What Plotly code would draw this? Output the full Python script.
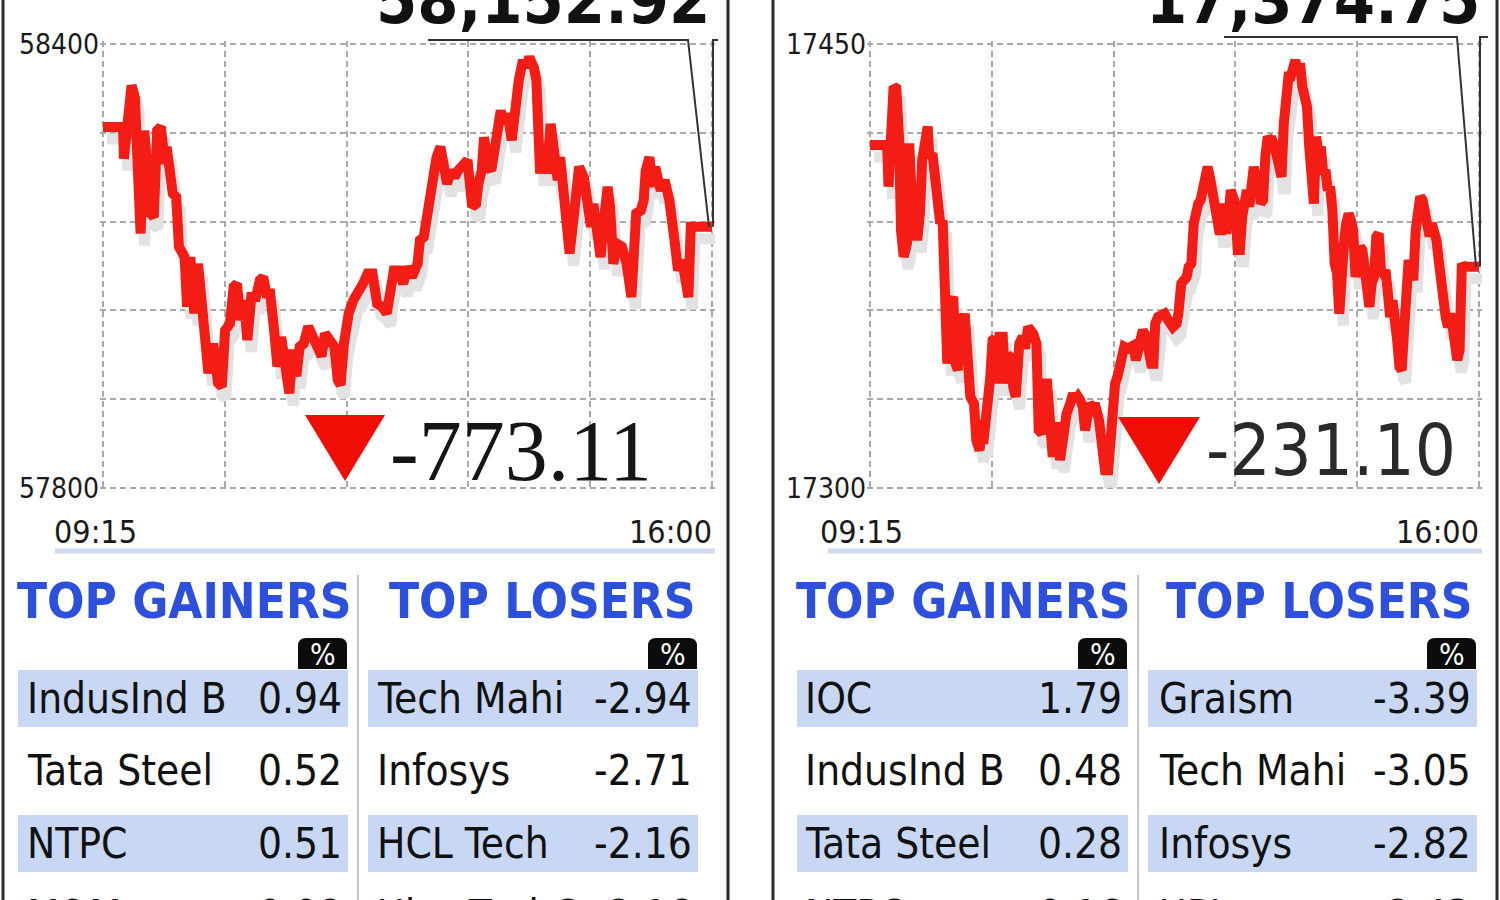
import plotly.graph_objects as go

W, H = 1500, 900

# ---------------- data ----------------
sensex_t = [0, 13.3, 13.9, 15.8, 19, 21.2, 22.7, 25, 27.5, 29.7, 31.6, 33.8, 36, 38.5, 41.1, 42.3, 44.9, 46.4, 48.7,
            50.5, 54.3, 55.9, 58.1, 60.7, 63.2, 65.4, 67.6, 70.1, 73.3, 76.5, 79, 81.2, 84.4, 86.9, 89.1, 91.3, 93.8,
            96, 98.6, 101.7, 104.3, 106.5, 108.7, 111.2, 113.8, 116, 118.5, 120.7, 123.9, 126.4, 128.6, 130.8, 133.4,
            136.5, 139.7, 142.8, 145.4, 147.6, 150.7, 153.9, 156.1, 158, 160.2, 163.4, 166.5, 169.7, 172.9, 176,
            179.2, 182.3, 185.5, 188.7, 190.9, 193.4, 196.6, 199.7, 202.2, 205.4, 209.2, 210.8, 213.3, 215.5, 218.7,
            221.8, 224.4, 226.6, 228.8, 231.3, 233.8, 236.1, 239.2, 242.4, 245.5, 248.1, 249.6, 251.9, 253.4, 256,
            258.2, 261.3, 264.5, 266.7, 269.2, 271.8, 274, 276.5, 278.7, 281.9, 283.5, 285, 286.6, 288.2, 290.7,
            292.9, 295.1, 297.7, 300.2, 302.4, 304, 307.2, 310.3, 313.5, 316.6, 319.8, 322, 324.5, 326.1, 328.6,
            330.9, 333.1, 335.6, 337.2, 339.4, 341.9, 345.1, 348.2, 351.4, 354.6, 357.7, 359.6, 360.9, 363.4, 365.6,
            367.2, 368.7, 370.9, 373.5, 376.6, 379.8, 382.4, 385.2, 387.7, 389.3, 390.9, 392.4, 395.6, 405]
sensex_v = [58288, 58288, 58245, 58288, 58344, 58328, 58270, 58144, 58283, 58229, 58171, 58166, 58283, 58288, 58238,
            58261, 58229, 58198, 58193, 58126, 58112, 58045, 58112, 58036, 58103, 58049, 58000, 57955, 57995, 57942,
            57937, 58013, 58022, 58072, 58076, 58027, 58054, 58000, 58058, 58058, 58081, 58085, 58063, 58063, 58013,
            57964, 58004, 57960, 57928, 57987, 57951, 57991, 57995, 58018, 58004, 57991, 57978, 58009, 58000, 57991,
            57946, 57939, 57995, 58036, 58054, 58063, 58076, 58090, 58090, 58049, 58045, 58036, 58072, 58094, 58094,
            58076, 58099, 58085, 58103, 58135, 58139, 58166, 58220, 58247, 58261, 58229, 58211, 58229, 58220, 58229,
            58234, 58243, 58180, 58184, 58211, 58229, 58274, 58234, 58229, 58283, 58310, 58292, 58306, 58270, 58324,
            58351, 58373, 58373, 58382, 58377, 58368, 58351, 58225, 58261, 58225, 58292, 58256, 58216, 58247, 58184,
            58117, 58175, 58234, 58220, 58175, 58153, 58184, 58135, 58112, 58162, 58207, 58180, 58103, 58130, 58126,
            58103, 58058, 58171, 58175, 58189, 58229, 58247, 58207, 58234, 58216, 58202, 58216, 58189, 58139, 58094,
            58108, 58067, 58058, 58153, 58153, 58153, 58153]

nifty_t = [0, 11.4, 12.3, 13.8, 15.7, 17.5, 19.4, 20.6, 22.4, 24.6, 26.1, 27.7, 29.2, 31.4, 33.2, 34.7, 36.9, 38.4,
           39.4, 41.5, 43, 45.2, 46.7, 48.3, 49.2, 51.4, 53.8, 55.4, 56.9, 58.4, 60, 61.5, 63, 64, 65.5, 66.7, 69.2,
           70.7, 72.9, 74.4, 75.3, 76.9, 78.4, 80, 81.5, 83, 84.6, 86.1, 88.3, 89.8, 91.6, 93.2, 95.3, 96.9, 98.4,
           99.3, 101.5, 103, 105.2, 107, 108.5, 110.7, 112.2, 114.4, 115.9, 117.8, 119.3, 121.5, 123, 124.5, 126.4,
           127.6, 129.2, 130.7, 133.1, 135, 136.8, 138.4, 139.9, 141.5, 143, 144.5, 146.1, 148.2, 150.1, 152.3,
           153.8, 156.3, 158.4, 160, 161.5, 163, 164.5, 167, 169.1, 171.3, 173.7, 175.3, 176.8, 179.3, 181.4, 183.6,
           185.1, 187, 188.5, 189.7, 191.6, 193.7, 195.9, 198.3, 201.4, 203.9, 205.1, 207, 209.1, 210.6, 211.9,
           213.7, 215.3, 216.8, 218.3, 219.9, 222.3, 224.5, 226, 227.6, 229.1, 230.6, 232.2, 233.7, 235.2, 236.8,
           238.3, 239.9, 241.4, 242.9, 244.5, 246, 247.5, 249.1, 250.6, 252.2, 253.7, 255.2, 256.8, 258.3, 259.8,
           261.4, 262.9, 264.5, 266, 267.5, 269.1, 270.6, 272.1, 273.7, 275.2, 276.8, 278.3, 279.8, 281.4, 282.9,
           284.4, 286, 287.5, 289.1, 290.6, 292.1, 293.7, 295.2, 296.7, 298.3, 299.8, 301.4, 302.9, 304.4, 306,
           307.5, 309, 310.6, 312.1, 313.7, 315.2, 316.7, 318.3, 319.8, 321.3, 322.9, 324.4, 326, 327.5, 329, 330.6,
           332.1, 333.6, 335.2, 336.7, 338.3, 339.8, 341.3, 342.9, 344.4, 345.9, 347.5, 349, 350.6, 352.1, 353.6,
           355.2, 356.7, 358.2, 359.8, 361.3, 362.9, 364.4, 365.9, 367.5, 369, 370.5, 372.1, 373.6, 375.2, 376.7,
           378.2, 379.8, 381.3, 382.8, 384.4, 385.9, 387.5, 389, 390.5, 392.1, 393.6, 395.1, 405]
nifty_v = [17415.9, 17415.9, 17401.8, 17416.4, 17435.6, 17435, 17417.5, 17387.1, 17378.1, 17382.6, 17416.4, 17398.4,
           17396.1, 17383.7, 17392.7, 17410.8, 17422.1, 17422.1, 17411.9, 17413, 17406.3, 17398.4, 17389.4, 17390.5,
           17364.6, 17342, 17362.3, 17364.6, 17342, 17339.8, 17358.9, 17353.3, 17358.9, 17346.5, 17342, 17330.8,
           17328.5, 17316.1, 17312.7, 17322.9, 17315, 17321.7, 17327.4, 17337.5, 17349.9, 17350.5, 17335.3, 17351.1,
           17351.1, 17335.3, 17344.9, 17344.3, 17334.1, 17330.8, 17342, 17348.8, 17351.1, 17347.1, 17354.4, 17353.3,
           17352.2, 17348.8, 17319.5, 17318.4, 17335.3, 17335.3, 17317.2, 17310.5, 17320.6, 17320.6, 17309.4,
           17316.1, 17322.9, 17325.1, 17328.5, 17331.9, 17329.6, 17330.8, 17329.6, 17327.4, 17319.5, 17325.1,
           17328.5, 17327.4, 17327.4, 17322.9, 17318.4, 17306, 17306, 17321.7, 17333, 17335.3, 17337.5, 17342,
           17347.7, 17347.1, 17348.2, 17348.2, 17343.2, 17351.1, 17353.3, 17351.1, 17343.2, 17342, 17342, 17355.6,
           17357.8, 17358.9, 17358.9, 17356.7, 17354.4, 17355.6, 17358.9, 17369.1, 17371.3, 17371.3, 17374.7,
           17375.8, 17389.4, 17393.9, 17396.1, 17397.3, 17405.1, 17408.5, 17405.1, 17400.6, 17393.9, 17391.6,
           17387.1, 17387.1, 17396.1, 17386, 17390.5, 17400.6, 17397.3, 17396.1, 17380.4, 17380.4, 17391.6, 17398.4,
           17400.6, 17395, 17407.4, 17408.5, 17404, 17406.3, 17396.1, 17397.3, 17411.9, 17418.7, 17417.5, 17417.5,
           17415.3, 17410.8, 17405.1, 17405.1, 17423.2, 17432.2, 17439, 17439, 17442.3, 17444.6, 17440.1, 17443.5,
           17435.6, 17431.1, 17428.8, 17415.3, 17402.9, 17396.1, 17418.7, 17413, 17415.3, 17406.3, 17407.4, 17400.6,
           17401.8, 17393.9, 17375.8, 17372.5, 17358.9, 17380.4, 17382.6, 17389.4, 17392.7, 17390.5, 17387.1,
           17371.3, 17375.8, 17381.5, 17380.4, 17373.6, 17362.3, 17361.2, 17369.1, 17371.3, 17384.9, 17386,
           17373.6, 17372.5, 17373.6, 17363.4, 17357.8, 17363.4, 17358.9, 17349.9, 17340.9, 17339.8, 17353.3,
           17375.8, 17377, 17373.6, 17370.2, 17387.1, 17397.3, 17398.4, 17397.3, 17393.9, 17390.5, 17385, 17389.4,
           17387.1, 17383.7, 17377, 17369.1, 17361.2, 17357.8, 17354.4, 17358.9, 17354.4, 17345.4, 17343.2, 17346.5,
           17375.8, 17374.75, 17374.75]

grid_minutes = [0, 81, 162, 243, 324, 405]
time_labels = ["09:15", "16:00"]
sensex_grid = [57800, 57920, 58040, 58160, 58280, 58400]
nifty_grid = [17300, 17330, 17360, 17390, 17420, 17450]
sensex_close_text = "58,152.92"
nifty_close_text = "17,374.75"
sensex_change_text = "-773.11"
nifty_change_text = "-231.10"

gainers_l_names = ["IndusInd B", "Tata Steel", "NTPC", "M&amp;M"]
gainers_l_vals = ["0.94", "0.52", "0.51", "0.08"]
losers_l_names = ["Tech Mahi", "Infosys", "HCL Tech", "UltraTechC"]
losers_l_vals = ["-2.94", "-2.71", "-2.16", "-2.16"]
gainers_r_names = ["IOC", "IndusInd B", "Tata Steel", "NTPC"]
gainers_r_vals = ["1.79", "0.48", "0.28", "0.16"]
losers_r_names = ["Graism", "Tech Mahi", "Infosys", "UPL"]
losers_r_vals = ["-3.39", "-3.05", "-2.82", "-2.43"]

# ---------------- style ----------------
RED = "#f41d16"
SHADOW = "#e2e2e2"
BLUE = "#2c4fdc"
BAND = "#c8d8f4"
GRID = "#a9a9a9"
NARROW = "DejaVu Sans Condensed, Liberation Sans Narrow, DejaVu Sans, sans-serif"
SERIF = "Liberation Serif, DejaVu Serif, serif"


def px(x):
    return x / W


def py(y):
    return 1 - y / H


TOP, BOT = 44, 488
PAD = 3  # px of padding so edge gridlines are drawn
charts = [
    dict(x0=103, x1=712, t=sensex_t, v=sensex_v, grid=sensex_grid, xa="x", ya="y"),
    dict(x0=870, x1=1479, t=nifty_t, v=nifty_v, grid=nifty_grid, xa="x2", ya="y2"),
]

fig = go.Figure()
shapes = []
annotations = []

for i, c in enumerate(charts):
    vmin, vmax = c["grid"][0], c["grid"][-1]
    tpp = 405 / (c["x1"] - c["x0"])          # minutes per px
    vpp = (vmax - vmin) / (BOT - TOP)        # value per px
    dt, dv = 4 * tpp, 12 * vpp
    fig.add_trace(go.Scatter(x=[t + dt for t in c["t"]], y=[v - dv for v in c["v"]], mode="lines",
                             line=dict(color=SHADOW, width=11), xaxis=c["xa"], yaxis=c["ya"], hoverinfo="skip"))
    fig.add_trace(go.Scatter(x=c["t"], y=c["v"], mode="lines", line=dict(color=RED, width=10),
                             xaxis=c["xa"], yaxis=c["ya"]))
    sfx = "" if i == 0 else "2"
    fig.layout["xaxis" + sfx] = dict(domain=[px(c["x0"] - PAD), px(c["x1"] + PAD)],
                                     range=[-PAD * tpp, 405 + PAD * tpp], tickvals=grid_minutes,
                                     showticklabels=False, showgrid=True, gridcolor=GRID, gridwidth=2,
                                     griddash="6px,4px", zeroline=False, showline=False, fixedrange=True,
                                     anchor="y" + sfx)
    fig.layout["yaxis" + sfx] = dict(domain=[py(BOT + PAD), py(TOP - PAD)],
                                     range=[vmin - PAD * vpp, vmax + PAD * vpp], tickvals=c["grid"],
                                     ticktext=[str(c["grid"][0])] + [""] * 4 + [str(c["grid"][-1])],
                                     showgrid=True, gridcolor=GRID, gridwidth=2, griddash="6px,4px",
                                     zeroline=False, showline=False, ticks="", ticklabelstandoff=0,
                                     tickfont=dict(family=NARROW, size=28, color="#1a1a1a"),
                                     anchor="x" + sfx, fixedrange=True)
    # time labels
    annotations.append(dict(x=0, y=py(532), xref=c["xa"], yref="paper", text=time_labels[0], showarrow=False,
                            xanchor="center", yanchor="middle", xshift=-8,
                            font=dict(family=NARROW, size=32, color="#1a1a1a")))
    annotations.append(dict(x=405, y=py(532), xref=c["xa"], yref="paper", text=time_labels[1], showarrow=False,
                            xanchor="right", yanchor="middle", xshift=2,
                            font=dict(family=NARROW, size=32, color="#1a1a1a")))

    # callout from closing value
    ex = c["x0"] + c["t"][-1] / 405 * (c["x1"] - c["x0"])
    ey = BOT - (c["v"][-1] - vmin) / (vmax - vmin) * (BOT - TOP)
    if i == 0:
        lx0, lx1, ly, tx = 428, 688, 40, 718
    else:
        lx0, lx1, ly, tx = 1224, 1457, 37, 1488
    path = (f"M {px(lx0)} {py(ly)} L {px(lx1)} {py(ly)} L {px(ex - 3)} {py(ey)} "
            f"M {px(ex + 1)} {py(ey)} L {px(ex + 1)} {py(ly)} L {px(tx)} {py(ly)}")
    shapes.append(dict(type="path", xref="paper", yref="paper", path=path, line=dict(color="#333333", width=2)))

# closing values (top, cut off)
annotations.append(dict(x=px(712), y=py(1), xref="paper", yref="paper", text=sensex_close_text, showarrow=False,
                        xanchor="right", yanchor="middle",
                        font=dict(family=NARROW, size=66, color="#111111", weight="bold")))
annotations.append(dict(x=px(1482), y=py(1), xref="paper", yref="paper", text=nifty_close_text, showarrow=False,
                        xanchor="right", yanchor="middle",
                        font=dict(family=NARROW, size=66, color="#111111", weight="bold")))

# down triangles + change
for (x0, x1, apx, ty0, ty1) in [(305, 385, 345, 415, 481), (1118, 1200, 1159, 417, 484)]:
    shapes.append(dict(type="path", xref="paper", yref="paper",
                       path=f"M {px(x0)} {py(ty0)} L {px(x1)} {py(ty0)} L {px(apx)} {py(ty1)} Z",
                       fillcolor="#f00d05", line=dict(width=0)))
annotations.append(dict(x=px(388), y=py(451), xref="paper", yref="paper", text=sensex_change_text, showarrow=False,
                        xanchor="left", yanchor="middle", font=dict(family=SERIF, size=86, color="#151515")))
annotations.append(dict(x=px(1204), y=py(450), xref="paper", yref="paper", text=nifty_change_text, showarrow=False,
                        xanchor="left", yanchor="middle", font=dict(family=NARROW, size=72, color="#2a2a2a")))

# panel borders
for xb in [3, 728, 773, 1497]:
    shapes.append(dict(type="line", xref="paper", yref="paper", x0=px(xb), x1=px(xb), y0=0, y1=1,
                       line=dict(color="#2b2b2b", width=3)))

# separator lines under charts
for (sx0, sx1) in [(55, 715), (828, 1482)]:
    shapes.append(dict(type="line", xref="paper", yref="paper", x0=px(sx0), x1=px(sx1), y0=py(551), y1=py(551),
                       line=dict(color="#cddaf0", width=5)))

# tables
row_centers = [698, 770, 843, 916]
tables = [
    dict(title="TOP GAINERS", tx=15, bx0=18, bx1=348, nx=25, names=gainers_l_names, vals=gainers_l_vals),
    dict(title="TOP LOSERS", tx=387, bx0=368, bx1=698, nx=375, names=losers_l_names, vals=losers_l_vals),
    dict(title="TOP GAINERS", tx=794, bx0=797, bx1=1128, nx=803, names=gainers_r_names, vals=gainers_r_vals),
    dict(title="TOP LOSERS", tx=1164, bx0=1148, bx1=1477, nx=1157, names=losers_r_names, vals=losers_r_vals),
]
for tb in tables:
    annotations.append(dict(x=px(tb["tx"]), y=py(601), xref="paper", yref="paper", text=tb["title"],
                            showarrow=False, xanchor="left", yanchor="middle",
                            font=dict(family=NARROW, size=49, color=BLUE, weight="bold")))
    # % tab
    tx0, tx1 = tb["bx1"] - 50, tb["bx1"] - 1
    r = 8
    shapes.append(dict(type="path", xref="paper", yref="paper",
                       path=(f"M {px(tx0)} {py(669)} L {px(tx0)} {py(638 + r)} Q {px(tx0)} {py(638)} {px(tx0 + r)} {py(638)} "
                             f"L {px(tx1 - r)} {py(638)} Q {px(tx1)} {py(638)} {px(tx1)} {py(638 + r)} L {px(tx1)} {py(669)} Z"),
                       fillcolor="#0c0c0c", line=dict(width=0)))
    annotations.append(dict(x=px((tx0 + tx1) / 2), y=py(654), xref="paper", yref="paper", text="%",
                            showarrow=False, xanchor="center", yanchor="middle",
                            font=dict(family=NARROW, size=30, color="white")))
    for k, yc in enumerate(row_centers):
        if k % 2 == 0:
            shapes.append(dict(type="rect", xref="paper", yref="paper", x0=px(tb["bx0"]), x1=px(tb["bx1"]),
                               y0=py(yc + 29), y1=py(yc - 28), fillcolor=BAND, line=dict(width=0), layer="below"))
        annotations.append(dict(x=px(tb["nx"]), y=py(yc), xref="paper", yref="paper", text=tb["names"][k],
                                showarrow=False, xanchor="left", yanchor="middle",
                                font=dict(family=NARROW, size=42, color="#111111")))
        annotations.append(dict(x=px(tb["bx1"] - 4), y=py(yc), xref="paper", yref="paper", text=tb["vals"][k],
                                showarrow=False, xanchor="right", yanchor="middle",
                                font=dict(family=NARROW, size=42, color="#111111")))

# divider lines between gainers/losers
for xd in [358, 1138]:
    shapes.append(dict(type="line", xref="paper", yref="paper", x0=px(xd), x1=px(xd), y0=0, y1=py(575),
                       line=dict(color="#c4c4c4", width=2)))

fig.update_layout(width=W, height=H, margin=dict(l=0, r=0, t=0, b=0, autoexpand=False), paper_bgcolor="white",
                  plot_bgcolor="rgba(0,0,0,0)", showlegend=False, shapes=shapes, annotations=annotations)
fig.write_html("out.html", config={"displayModeBar": False},
               post_script="document.body.style.margin='0';document.body.style.overflow='hidden';")
